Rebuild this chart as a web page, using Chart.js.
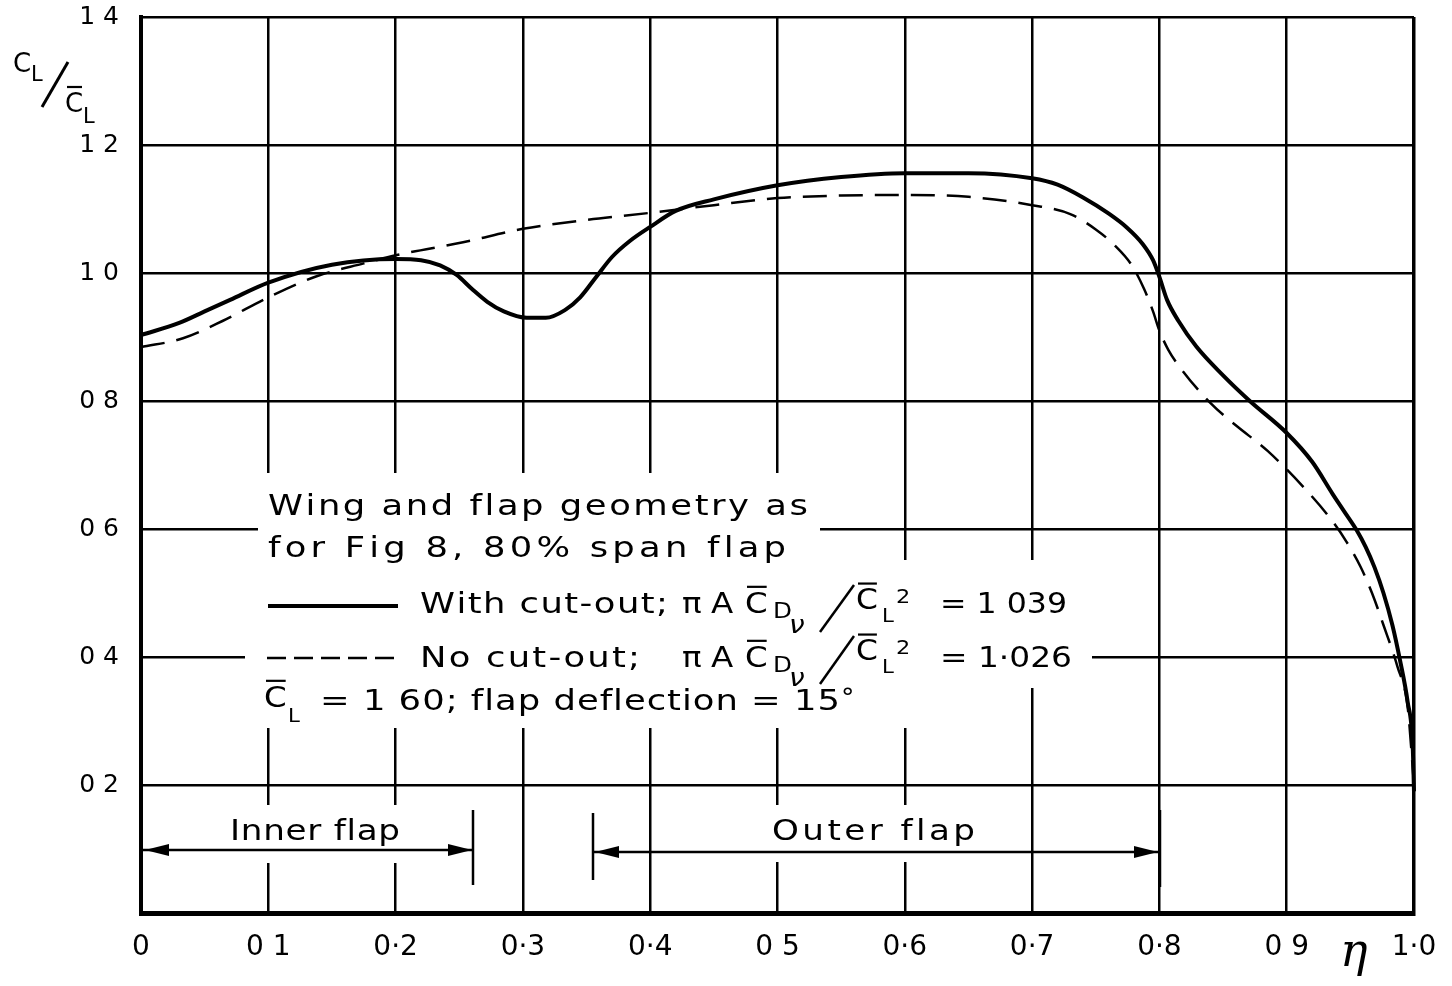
<!DOCTYPE html>
<html><head><meta charset="utf-8">
<script src="https://cdn.jsdelivr.net/npm/chart.js@4.4.0/dist/chart.umd.min.js"></script>
<style>html,body{margin:0;padding:0;background:#fff;}#wrap{width:1452px;height:986px;}</style>
</head><body><div id="wrap"><canvas id="c" width="1452" height="986"></canvas></div>
<script>
// ---- data ----
const etaWithCutout = [0, 0.03, 0.05, 0.07, 0.10, 0.15, 0.20, 0.22, 0.235, 0.248, 0.26, 0.272, 0.285, 0.303, 0.318, 0.333, 0.345, 0.358, 0.37, 0.384, 0.40, 0.42, 0.45, 0.50, 0.55, 0.60, 0.65, 0.70, 0.72, 0.74, 0.76, 0.775, 0.787, 0.795, 0.80, 0.806, 0.815, 0.829, 0.85, 0.871, 0.90, 0.92, 0.936, 0.945, 0.955, 0.962, 0.969, 0.976, 0.983, 0.989, 0.995, 0.999, 1.0];
const clWithCutout  = [0.903, 0.922, 0.940, 0.958, 0.985, 1.013, 1.022, 1.020, 1.012, 0.997, 0.975, 0.955, 0.940, 0.930, 0.930, 0.942, 0.962, 0.995, 1.025, 1.050, 1.072, 1.097, 1.115, 1.137, 1.150, 1.156, 1.156, 1.148, 1.138, 1.118, 1.093, 1.070, 1.045, 1.020, 0.994, 0.958, 0.925, 0.885, 0.840, 0.800, 0.750, 0.705, 0.655, 0.628, 0.598, 0.572, 0.540, 0.500, 0.450, 0.395, 0.330, 0.260, 0.19];
const etaNoCutout = [0, 0.033, 0.064, 0.101, 0.138, 0.175, 0.201, 0.253, 0.30, 0.35, 0.40, 0.45, 0.50, 0.55, 0.60, 0.65, 0.70, 0.73, 0.75, 0.765, 0.778, 0.788, 0.795, 0.80, 0.807, 0.816, 0.84, 0.86, 0.885, 0.918, 0.936, 0.947, 0.958, 0.967, 0.976, 0.987, 0.995, 1.0];
const clNoCutout  = [0.884, 0.898, 0.925, 0.963, 0.995, 1.015, 1.028, 1.048, 1.069, 1.083, 1.094, 1.106, 1.117, 1.121, 1.122, 1.119, 1.106, 1.092, 1.068, 1.043, 1.013, 0.975, 0.940, 0.910, 0.880, 0.853, 0.797, 0.762, 0.722, 0.655, 0.612, 0.580, 0.541, 0.500, 0.450, 0.385, 0.322, 0.20];
const xTickLabels = ['0', '0 1', '0·2', '0·3', '0·4', '0 5', '0·6', '0·7', '0·8', '0 9', '1·0'];
const yTickLabels = ['', '0 2', '0 4', '0 6', '0 8', '1 0', '1 2', '1 4'];

const FONT = '"DejaVu Sans", sans-serif';

function mapper(chart) {
  const ca = chart.chartArea;
  const sx = ca.width / 1273, sy = ca.height / 896;
  return { X: p => ca.left + (p - 141) * sx, Y: p => ca.top + (p - 17) * sy };
}
function fitText(ctx, str, x, y, w, size, maxStretch) {
  maxStretch = maxStretch || 1.22;
  ctx.font = size + 'px ' + FONT;
  const chars = Array.from(str);
  const widths = chars.map(c => ctx.measureText(c).width);
  const total = widths.reduce((a, b) => a + b, 0);
  const sx = Math.min(maxStretch, Math.max(0.85, w / total));
  const ls = chars.length > 1 ? (w / sx - total) / (chars.length - 1) : 0;
  ctx.save(); ctx.translate(x, y); ctx.scale(sx, 1);
  let cx = 0;
  chars.forEach((c, i) => { ctx.fillText(c, cx, 0); cx += widths[i] + ls; });
  ctx.restore();
}
function txt(ctx, s, x, y, size, style, sx) {
  ctx.font = (style ? style + ' ' : '') + size + 'px ' + FONT;
  sx = sx || 1.12;
  ctx.save(); ctx.translate(x, y); ctx.scale(sx, 1); ctx.fillText(s, 0, 0); ctx.restore();
  return ctx.measureText(s).width * sx;
}
function cbar(ctx, x, y, size) {
  const w = txt(ctx, 'C', x, y, size);
  const yb = y - size * 0.73 - 5;
  ctx.lineWidth = 2.2;
  ctx.beginPath(); ctx.moveTo(x + 2, yb); ctx.lineTo(x + w - 1, yb); ctx.stroke();
}
function arrowHead(ctx, xt, y, dir) {
  ctx.beginPath();
  ctx.moveTo(xt, y);
  ctx.lineTo(xt - dir * 24, y - 6);
  ctx.lineTo(xt - dir * 24, y + 6);
  ctx.closePath(); ctx.fill();
}

const annotations = {
  id: 'annotations',
  beforeDatasetsDraw(chart) {
    const ctx = chart.ctx; const { X, Y } = mapper(chart);
    ctx.save(); ctx.fillStyle = '#fff';
    const boxes = [[258, 473, 820, 565], [245, 560, 1092, 688], [250, 688, 912, 728], [225, 805, 405, 863], [765, 805, 985, 862]];
    boxes.forEach(b => ctx.fillRect(X(b[0]), Y(b[1]), X(b[2]) - X(b[0]), Y(b[3]) - Y(b[1])));
    ctx.restore();
  },
  afterDraw(chart) {
    const ctx = chart.ctx; const { X, Y } = mapper(chart);
    ctx.save();
    ctx.fillStyle = '#000'; ctx.strokeStyle = '#000';
    ctx.textBaseline = 'alphabetic'; ctx.textAlign = 'left';
    // annotation text
    fitText(ctx, 'Wing and flap geometry as', X(268), Y(515), X(808) - X(268), 29);
    fitText(ctx, 'for Fig 8, 80% span flap', X(268), Y(557), X(786) - X(268), 29);
    // legend row 1
    ctx.lineWidth = 4; ctx.setLineDash([]);
    ctx.beginPath(); ctx.moveTo(X(268), Y(606)); ctx.lineTo(X(398), Y(606)); ctx.stroke();
    fitText(ctx, 'With cut-out;', X(420), Y(613), X(668) - X(420), 29);
    txt(ctx, 'π', X(682), Y(613), 29);
    txt(ctx, 'A', X(711), Y(613), 29);
    cbar(ctx, X(745), Y(613), 29);
    txt(ctx, 'D', X(773), Y(618), 22);
    txt(ctx, 'ν', X(789), Y(633), 25, 'italic');
    ctx.lineWidth = 2.5; ctx.beginPath(); ctx.moveTo(X(820), Y(632)); ctx.lineTo(X(854), Y(585)); ctx.stroke();
    cbar(ctx, X(856), Y(609), 28);
    txt(ctx, 'L', X(882), Y(622), 19);
    txt(ctx, '2', X(896), Y(603), 20);
    fitText(ctx, '= 1 039', X(940), Y(613), X(1067) - X(940), 29);
    // legend row 2
    ctx.lineWidth = 2.5; ctx.setLineDash([19, 8]);
    ctx.beginPath(); ctx.moveTo(X(267), Y(658)); ctx.lineTo(X(397), Y(658)); ctx.stroke();
    ctx.setLineDash([]);
    fitText(ctx, 'No cut-out;', X(420), Y(667), X(640) - X(420), 29);
    txt(ctx, 'π', X(682), Y(667), 29);
    txt(ctx, 'A', X(711), Y(667), 29);
    cbar(ctx, X(745), Y(667), 29);
    txt(ctx, 'D', X(773), Y(672), 22);
    txt(ctx, 'ν', X(789), Y(686), 25, 'italic');
    ctx.lineWidth = 2.5; ctx.beginPath(); ctx.moveTo(X(820), Y(684)); ctx.lineTo(X(854), Y(636)); ctx.stroke();
    cbar(ctx, X(856), Y(660), 28);
    txt(ctx, 'L', X(882), Y(673), 19);
    txt(ctx, '2', X(896), Y(654), 20);
    fitText(ctx, '= 1·026', X(940), Y(667), X(1072) - X(940), 29);
    // row 3
    cbar(ctx, X(264), Y(707), 29);
    txt(ctx, 'L', X(288), Y(722), 19);
    fitText(ctx, '= 1 60; flap deflection = 15', X(320), Y(710), X(840) - X(320), 29);
    txt(ctx, '°', X(841), Y(706), 24);
    // flap spans
    fitText(ctx, 'Inner flap', X(230), Y(840), X(400) - X(230), 28);
    fitText(ctx, 'Outer flap', X(772), Y(840), X(975) - X(772), 28);
    ctx.lineWidth = 2.5;
    ctx.beginPath(); ctx.moveTo(X(143), Y(850)); ctx.lineTo(X(473), Y(850)); ctx.stroke();
    arrowHead(ctx, X(145), Y(850), -1); arrowHead(ctx, X(472), Y(850), 1);
    ctx.beginPath(); ctx.moveTo(X(473), Y(810)); ctx.lineTo(X(473), Y(885)); ctx.stroke();
    ctx.beginPath(); ctx.moveTo(X(593), Y(852)); ctx.lineTo(X(1160), Y(852)); ctx.stroke();
    arrowHead(ctx, X(595), Y(852), -1); arrowHead(ctx, X(1158), Y(852), 1);
    ctx.beginPath(); ctx.moveTo(X(593), Y(813)); ctx.lineTo(X(593), Y(880)); ctx.stroke();
    ctx.beginPath(); ctx.moveTo(X(1160), Y(810)); ctx.lineTo(X(1160), Y(887)); ctx.stroke();
    // y-axis title C_L / C̄_L
    txt(ctx, 'C', X(13), Y(72), 26, '', 1.0);
    txt(ctx, 'L', X(31), Y(81), 21, '', 1.0);
    ctx.lineWidth = 3; ctx.beginPath(); ctx.moveTo(X(42), Y(107)); ctx.lineTo(X(68), Y(62)); ctx.stroke();
    txt(ctx, 'C', X(65), Y(112), 26, '', 1.0);
    ctx.lineWidth = 2.2; ctx.beginPath(); ctx.moveTo(X(67), Y(87)); ctx.lineTo(X(82), Y(87)); ctx.stroke();
    txt(ctx, 'L', X(83), Y(123), 21, '', 1.0);
    // eta
    ctx.font = 'italic 46px "DejaVu Serif", serif';
    ctx.fillText('η', X(1340), Y(966));
    ctx.restore();
  }
};

const ds = (xs, ys) => xs.map((x, i) => ({ x: x, y: ys[i] }));

new Chart(document.getElementById('c'), {
  type: 'line',
  data: {
    datasets: [
      { label: 'With cut-out', data: ds(etaWithCutout, clWithCutout), borderColor: '#000', borderWidth: 4, pointRadius: 0, cubicInterpolationMode: 'monotone', fill: false, clip: 6 },
      { label: 'No cut-out', data: ds(etaNoCutout, clNoCutout), borderColor: '#000', borderWidth: 2.5, borderDash: [24, 12], pointRadius: 0, cubicInterpolationMode: 'monotone', fill: false, clip: 6 }
    ]
  },
  options: {
    responsive: false, animation: false, devicePixelRatio: 1,
    layout: { padding: { left: 0, right: 38, top: 17, bottom: 0 } },
    plugins: { legend: { display: false }, tooltip: { enabled: false } },
    scales: {
      x: {
        type: 'linear', min: 0, max: 1,
        afterFit: s => { s.height = 73; s.paddingLeft = 0; s.paddingRight = 0; },
        border: { display: true, color: '#000', width: 5 },
        grid: { color: '#000', lineWidth: c => (c.tick && Math.abs(c.tick.value - 1) < 1e-6) ? 3.5 : 2.5, drawTicks: false },
        ticks: { stepSize: 0.1, padding: 18, color: '#000', font: { family: FONT, size: 28 }, maxRotation: 0, autoSkip: false,
                 callback: v => xTickLabels[Math.round(v * 10)] }
      },
      y: {
        min: 0, max: 1.4,
        afterFit: s => { s.width = 141; s.paddingTop = 0; s.paddingBottom = 0; },
        border: { display: true, color: '#000', width: 4 },
        grid: { color: c => (c.tick && c.tick.value === 0) ? 'rgba(0,0,0,0)' : '#000', lineWidth: 2.5, drawTicks: false },
        ticks: { stepSize: 0.2, padding: 22, color: '#000', font: { family: FONT, size: 25 },
                 callback: v => yTickLabels[Math.round(v * 5)] }
      }
    }
  },
  plugins: [annotations]
});
</script>
</body></html>
